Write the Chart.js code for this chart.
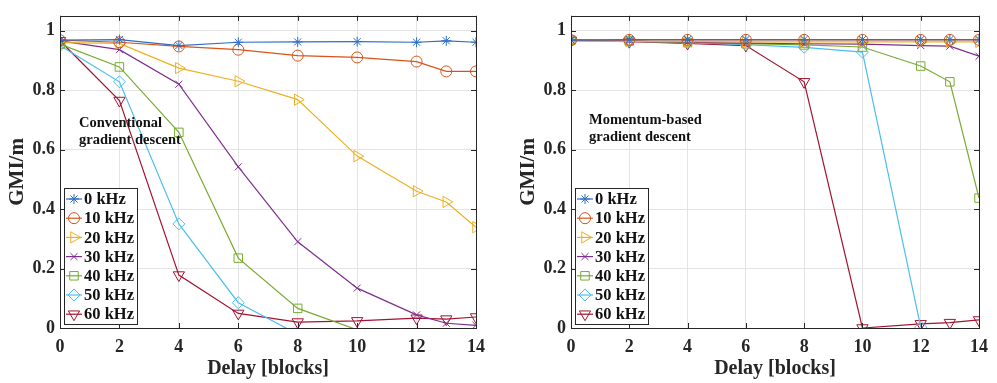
<!DOCTYPE html>
<html>
<head>
<meta charset="utf-8">
<script src="https://cdn.jsdelivr.net/npm/chart.js@4.4.1/dist/chart.umd.min.js"></script>
<style>
  body { margin: 0; background: #fff; }
  #wrap { position: relative; width: 997px; height: 383px; overflow: hidden; }
  canvas { position: absolute; top: 0; }
  #left { left: 0; }
  #right { left: 511px; }
</style>
</head>
<body>
<div id="wrap">
  <canvas id="left" width="498" height="383"></canvas>
  <canvas id="right" width="486" height="383"></canvas>
</div>
<script>
// ---- data ----
const delays = [0, 2, 4, 6, 8, 10, 12, 13, 14];
const seriesNames = ["0 kHz", "10 kHz", "20 kHz", "30 kHz", "40 kHz", "50 kHz", "60 kHz"];
const xTicks = [0, 2, 4, 6, 8, 10, 12, 14];
const yTicks = [0, 0.2, 0.4, 0.6, 0.8, 1];

// conventional gradient descent (left)
const conv0  = [0.968, 0.970, 0.950, 0.961, 0.962, 0.963, 0.961, 0.966, 0.961];
const conv10 = [0.968, 0.961, 0.947, 0.936, 0.916, 0.910, 0.896, 0.863, 0.863];
const conv20 = [0.960, 0.957, 0.874, 0.830, 0.768, 0.578, 0.460, 0.424, 0.339];
const conv30 = [0.966, 0.936, 0.820, 0.542, 0.290, 0.134, 0.044, 0.016, 0.009];
const conv40 = [0.955, 0.878, 0.658, 0.235, 0.066, -0.006, null, null, null];
const conv50 = [0.950, 0.828, 0.350, 0.085, -0.021, null, null, null, null];
const conv60 = [0.966, 0.765, 0.178, 0.049, 0.020, 0.024, 0.033, 0.030, 0.037];

// momentum-based gradient descent (right)
const mom0  = [0.968, 0.970, 0.970, 0.970, 0.970, 0.970, 0.970, 0.970, 0.970];
const mom10 = [0.968, 0.969, 0.969, 0.969, 0.969, 0.969, 0.969, 0.969, 0.969];
const mom20 = [0.965, 0.964, 0.963, 0.962, 0.962, 0.962, 0.962, 0.962, 0.962];
const mom30 = [0.968, 0.965, 0.961, 0.958, 0.956, 0.955, 0.950, 0.948, 0.914];
const mom40 = [0.968, 0.965, 0.960, 0.956, 0.952, 0.945, 0.881, 0.828, 0.437];
const mom50 = [0.968, 0.965, 0.960, 0.953, 0.944, 0.928, 0.003, null, null];
const mom60 = [0.967, 0.963, 0.957, 0.950, 0.828, 0.000, 0.014, 0.018, 0.027];

// ---- look ----
const FONT = "'Liberation Serif', 'Times New Roman', serif";
const INK = "#262626";

const looks = [
  { color: "#2f6fc4", style: "star",     rot: 0,   r: 5 },
  { color: "#D95319", style: "circle",   rot: 0,   r: 5.5 },
  { color: "#EDB120", style: "triangle", rot: 90,  r: 6.5 },
  { color: "#7E2F8E", style: "crossRot", rot: 0,   r: 5 },
  { color: "#77AC30", style: "rect",     rot: 0,   r: 6 },
  { color: "#4DBEEE", style: "rectRot",  rot: 0,   r: 6 },
  { color: "#A2142F", style: "triangle", rot: 180, r: 6.5 }
];

function makeDatasets(seriesList) {
  return seriesList.map((vals, i) => {
    const lk = looks[i];
    return {
      label: seriesNames[i],
      data: delays.map((d, j) => ({ x: d, y: vals[j] })),
      borderColor: lk.color,
      borderWidth: 1.2,
      pointStyle: lk.style,
      rotation: lk.rot,
      pointRadius: ctx => (ctx.raw && ctx.raw.y < 0 ? 0 : lk.r),
      pointBorderColor: lk.color,
      pointBackgroundColor: "rgba(0,0,0,0)",
      pointBorderWidth: 1,
      pointHoverRadius: lk.r,
      tension: 0,
      spanGaps: false
    };
  });
}

// box, inward ticks, in-axes legend and note
const framePlugin = {
  id: "frame",
  afterDatasetsDraw(chart, args, opts) {
    const { ctx, chartArea: a, scales } = chart;
    ctx.save();

    // inward tick marks
    ctx.strokeStyle = INK;
    ctx.lineWidth = 1;
    ctx.beginPath();
    xTicks.forEach(v => {
      const px = Math.round(scales.x.getPixelForValue(v)) + 0.5;
      ctx.moveTo(px, a.bottom); ctx.lineTo(px, a.bottom - 5);
      ctx.moveTo(px, a.top);    ctx.lineTo(px, a.top + 5);
    });
    yTicks.forEach(v => {
      const py = Math.round(scales.y.getPixelForValue(v)) + 0.5;
      ctx.moveTo(a.left, py);  ctx.lineTo(a.left + 5, py);
      ctx.moveTo(a.right, py); ctx.lineTo(a.right - 5, py);
    });
    ctx.stroke();

    // box
    ctx.strokeRect(Math.round(a.left) + 0.5, Math.round(a.top) + 0.5,
                   Math.round(a.right - a.left), Math.round(a.bottom - a.top));

    // note
    ctx.fillStyle = "#111";
    ctx.font = "bold 14.5px " + FONT;
    ctx.textBaseline = "middle";
    ctx.textAlign = "left";
    opts.note.forEach((line, i) => {
      ctx.fillText(line, opts.noteX, opts.noteY + i * 17);
    });

    // legend
    const lx = a.left + 4, ly = 188, lw = 73, lh = 136;
    ctx.fillStyle = "#fff";
    ctx.fillRect(lx, ly, lw, lh);
    ctx.strokeStyle = INK;
    ctx.strokeRect(lx + 0.5, ly + 0.5, lw, lh);
    ctx.font = "bold 16.5px " + FONT;
    chart.data.datasets.forEach((ds, i) => {
      const cy = ly + 11 + i * 19.2;
      ctx.strokeStyle = ds.borderColor;
      ctx.lineWidth = 1.2;
      ctx.beginPath();
      ctx.moveTo(lx + 2, cy); ctx.lineTo(lx + 18, cy);
      ctx.stroke();
      ctx.lineWidth = 1;
      ctx.fillStyle = "rgba(0,0,0,0)";
      Chart.helpers.drawPoint(ctx, {
        pointStyle: ds.pointStyle,
        rotation: ds.rotation,
        radius: looks[i].r,
        borderWidth: 1
      }, lx + 10, cy);
      ctx.fillStyle = "#111";
      ctx.fillText(ds.label, lx + 20, cy + 1);
    });

    ctx.restore();
  }
};

function makeChart(id, seriesList, note, noteX, noteY, padRight) {
  return new Chart(document.getElementById(id), {
    type: "line",
    data: { datasets: makeDatasets(seriesList) },
    plugins: [framePlugin],
    options: {
      responsive: false,
      animation: false,
      layout: { padding: { left: 0, top: 6, right: padRight, bottom: 0 } },
      plugins: {
        legend: { display: false },
        tooltip: { enabled: false },
        frame: { note, noteX, noteY }
      },
      scales: {
        x: {
          type: "linear",
          min: 0,
          max: 14,
          afterBuildTicks: s => { s.ticks = xTicks.map(v => ({ value: v })); },
          afterFit: s => { s.height = 55; },
          grid: { color: "#e4e4e4", drawTicks: false },
          border: { display: false },
          ticks: {
            padding: 9,
            color: INK,
            font: { family: FONT, size: 18, weight: "bold" },
            callback: v => String(v)
          },
          title: {
            display: true,
            text: "Delay [blocks]",
            color: INK,
            font: { family: FONT, size: 20, weight: "bold" },
            padding: { top: 0, bottom: 2 }
          }
        },
        y: {
          min: 0,
          max: 1.05,
          afterBuildTicks: s => { s.ticks = yTicks.map(v => ({ value: v })); },
          afterFit: s => { s.width = 60; },
          grid: { color: "#e4e4e4", drawTicks: false },
          border: { display: false },
          ticks: {
            padding: 5,
            color: INK,
            font: { family: FONT, size: 18, weight: "bold" },
            callback: v => String(Math.round(v * 10) / 10)
          },
          title: {
            display: true,
            text: "GMI/m",
            color: INK,
            font: { family: FONT, size: 21, weight: "bold" },
            padding: { top: 5, bottom: 0 }
          }
        }
      }
    }
  });
}

makeChart("left",
  [conv0, conv10, conv20, conv30, conv40, conv50, conv60],
  ["Conventional", "gradient descent"], 79, 123, 22);

makeChart("right",
  [mom0, mom10, mom20, mom30, mom40, mom50, mom60],
  ["Momentum-based", "gradient descent"], 78, 120, 10);
</script>
</body>
</html>
